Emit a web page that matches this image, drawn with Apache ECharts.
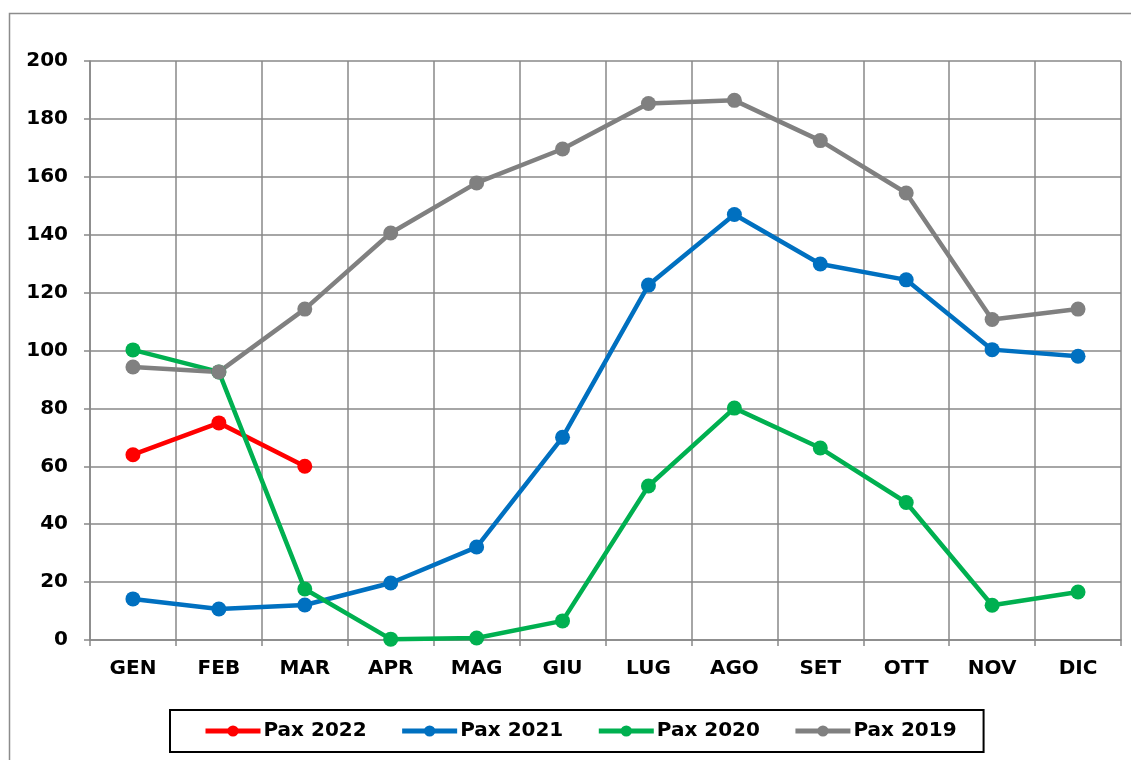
<!DOCTYPE html>
<html>
<head>
<meta charset="utf-8">
<script src="https://cdn.jsdelivr.net/npm/echarts@6/dist/echarts.min.js"></script>
<style>html,body{margin:0;padding:0;background:#fff}#c{width:1131px;height:760px}</style>
</head>
<body>
<div id="c"></div>
<script>
const months = ['GEN','FEB','MAR','APR','MAG','GIU','LUG','AGO','SET','OTT','NOV','DIC'];
const pax2022 = [64, 75, 60];
const pax2021 = [14.2, 10.7, 12.1, 19.7, 32.1, 70.0, 122.6, 147.0, 129.9, 124.4, 100.3, 98.0];
const pax2020 = [100.2, 92.6, 17.6, 0.3, 0.7, 6.6, 53.2, 80.1, 66.3, 47.5, 12.0, 16.6];
const pax2019 = [94.3, 92.6, 114.3, 140.6, 157.9, 169.6, 185.3, 186.4, 172.5, 154.4, 110.7, 114.3];

const FONT = '"DejaVu Sans", Verdana, sans-serif';
const chart = echarts.init(document.getElementById('c'), null, {renderer: 'canvas'});
function mk(name, data, color) {
  return {
    name, type: 'line', data, color,
    symbol: 'circle', symbolSize: 15,
    lineStyle: {width: 4.5, color},
    itemStyle: {color},
    animation: false
  };
}
chart.setOption({
  animation: false,
  graphic: [{
    type: 'rect', silent: true, z: -10,
    shape: {x: 9.5, y: 13.5, width: 1200, height: 900},
    style: {fill: 'none', stroke: '#8c8c8c', lineWidth: 1.5}
  }],
  grid: {left: 90, right: 10, top: 61, bottom: 120},
  xAxis: {
    type: 'category', data: months, boundaryGap: true,
    axisLine: {lineStyle: {color: '#888', width: 1.5}},
    axisTick: {show: true, length: 6, lineStyle: {color: '#888', width: 1.5}},
    splitLine: {show: true, lineStyle: {color: '#888', width: 1.5}},
    axisLabel: {color: '#000', fontFamily: FONT, fontWeight: 'bold', fontSize: 20, margin: 19}
  },
  yAxis: {
    type: 'value', min: 0, max: 200, interval: 20,
    axisLine: {show: true, lineStyle: {color: '#888', width: 1.5}},
    axisTick: {show: true, length: 6, lineStyle: {color: '#888', width: 1.5}},
    splitLine: {show: true, lineStyle: {color: '#888', width: 1.5}},
    axisLabel: {color: '#000', fontFamily: FONT, fontWeight: 'bold', fontSize: 20, margin: 22}
  },
  legend: {
    left: 170, top: 710,
    padding: [11, 27, 11, 33],
    itemGap: 33, itemWidth: 55, itemHeight: 14,
    borderColor: '#000', borderWidth: 2,
    lineStyle: {width: 5},
    textStyle: {color: '#000', fontFamily: FONT, fontWeight: 'bold', fontSize: 20, padding: [0,0,0,-2]},
    data: ['Pax 2022', 'Pax 2021', 'Pax 2020', 'Pax 2019']
  },
  series: [
    mk('Pax 2022', pax2022, '#FF0000'),
    mk('Pax 2021', pax2021, '#0070C0'),
    mk('Pax 2020', pax2020, '#00B050'),
    mk('Pax 2019', pax2019, '#808080')
  ]
});
</script>
</body>
</html>
